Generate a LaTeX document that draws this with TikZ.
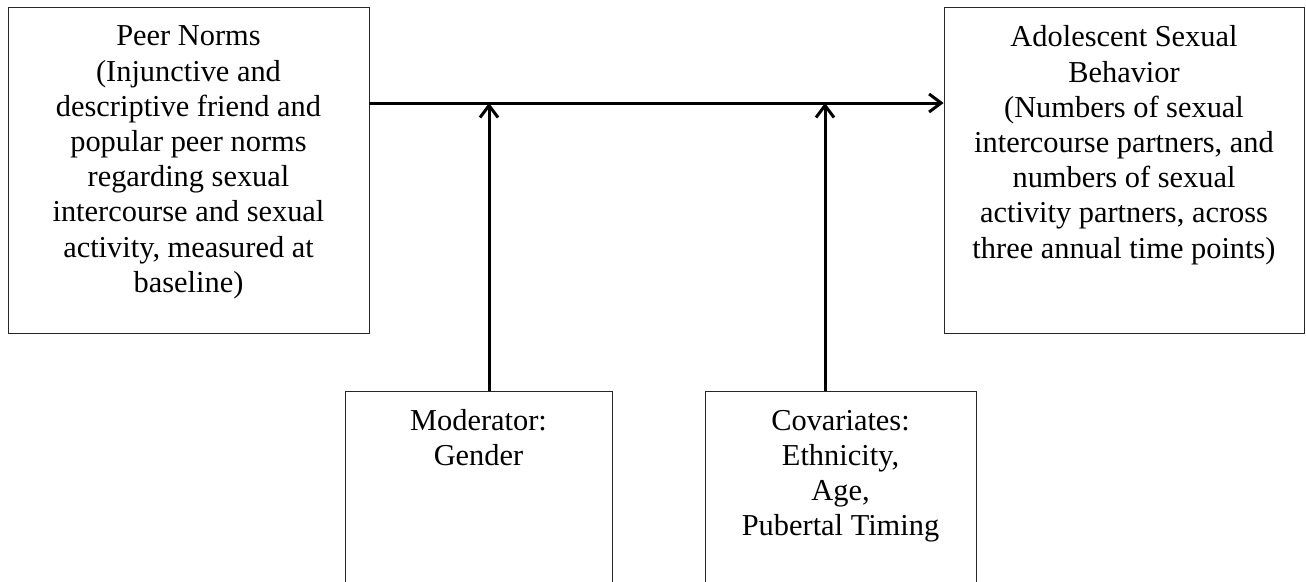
\documentclass[tikz,border=0pt]{standalone}
\usepackage{fontspec}
\setmainfont{Liberation Serif}
\usetikzlibrary{arrows.meta}
\tikzset{
  box/.style={draw=black!85, line width=0.8pt, rectangle, inner sep=0pt},
  boxtext/.style={anchor=north, align=center, inner sep=0pt,
    font=\fontsize{30.4}{35.2}\selectfont},
  arr/.style={line width=3pt, -{Straight Barb[length=12pt,width=18pt]}}
}
\begin{document}
\begin{tikzpicture}[x=1pt,y=-1pt]
\useasboundingbox (0,0) rectangle (1306,581);
\clip (0,0) rectangle (1306,581);
% boxes
\node[box, minimum width=361pt, minimum height=326pt] (peer) at (188.5,170) {};
\node[box, minimum width=360pt, minimum height=326pt] (asb) at (1124,170) {};
\node[box, minimum width=267pt, minimum height=220pt] (mod) at (478.5,501) {};
\node[box, minimum width=271pt, minimum height=220pt] (cov) at (840.5,501) {};
% texts
\node[boxtext] (peertxt) at (188.5,21.1) {\strut Peer Norms\\(Injunctive and\\descriptive friend and\\popular peer norms\\regarding sexual\\intercourse and sexual\\activity, measured at\\baseline)};
\node[boxtext] (asbtxt) at (1124,22.0) {\strut Adolescent Sexual\\Behavior\\(Numbers of sexual\\intercourse partners, and\\numbers of sexual\\activity partners, across\\three annual time points)};
\node[boxtext] (modtxt) at (478.5,405.3) {\strut Moderator:\\Gender};
\node[boxtext] (covtxt) at (840.5,405.3) {\strut Covariates:\\Ethnicity,\\Age,\\Pubertal Timing};
% connectors
\coordinate (j1) at (489,103);
\coordinate (j2) at (825,103);
\draw[arr] (peer.east |- j1) -- (asb.west |- j1);
\draw[arr] (mod.north -| j1) -- (j1);
\draw[arr] (cov.north -| j2) -- (j2);
\end{tikzpicture}
\end{document}
